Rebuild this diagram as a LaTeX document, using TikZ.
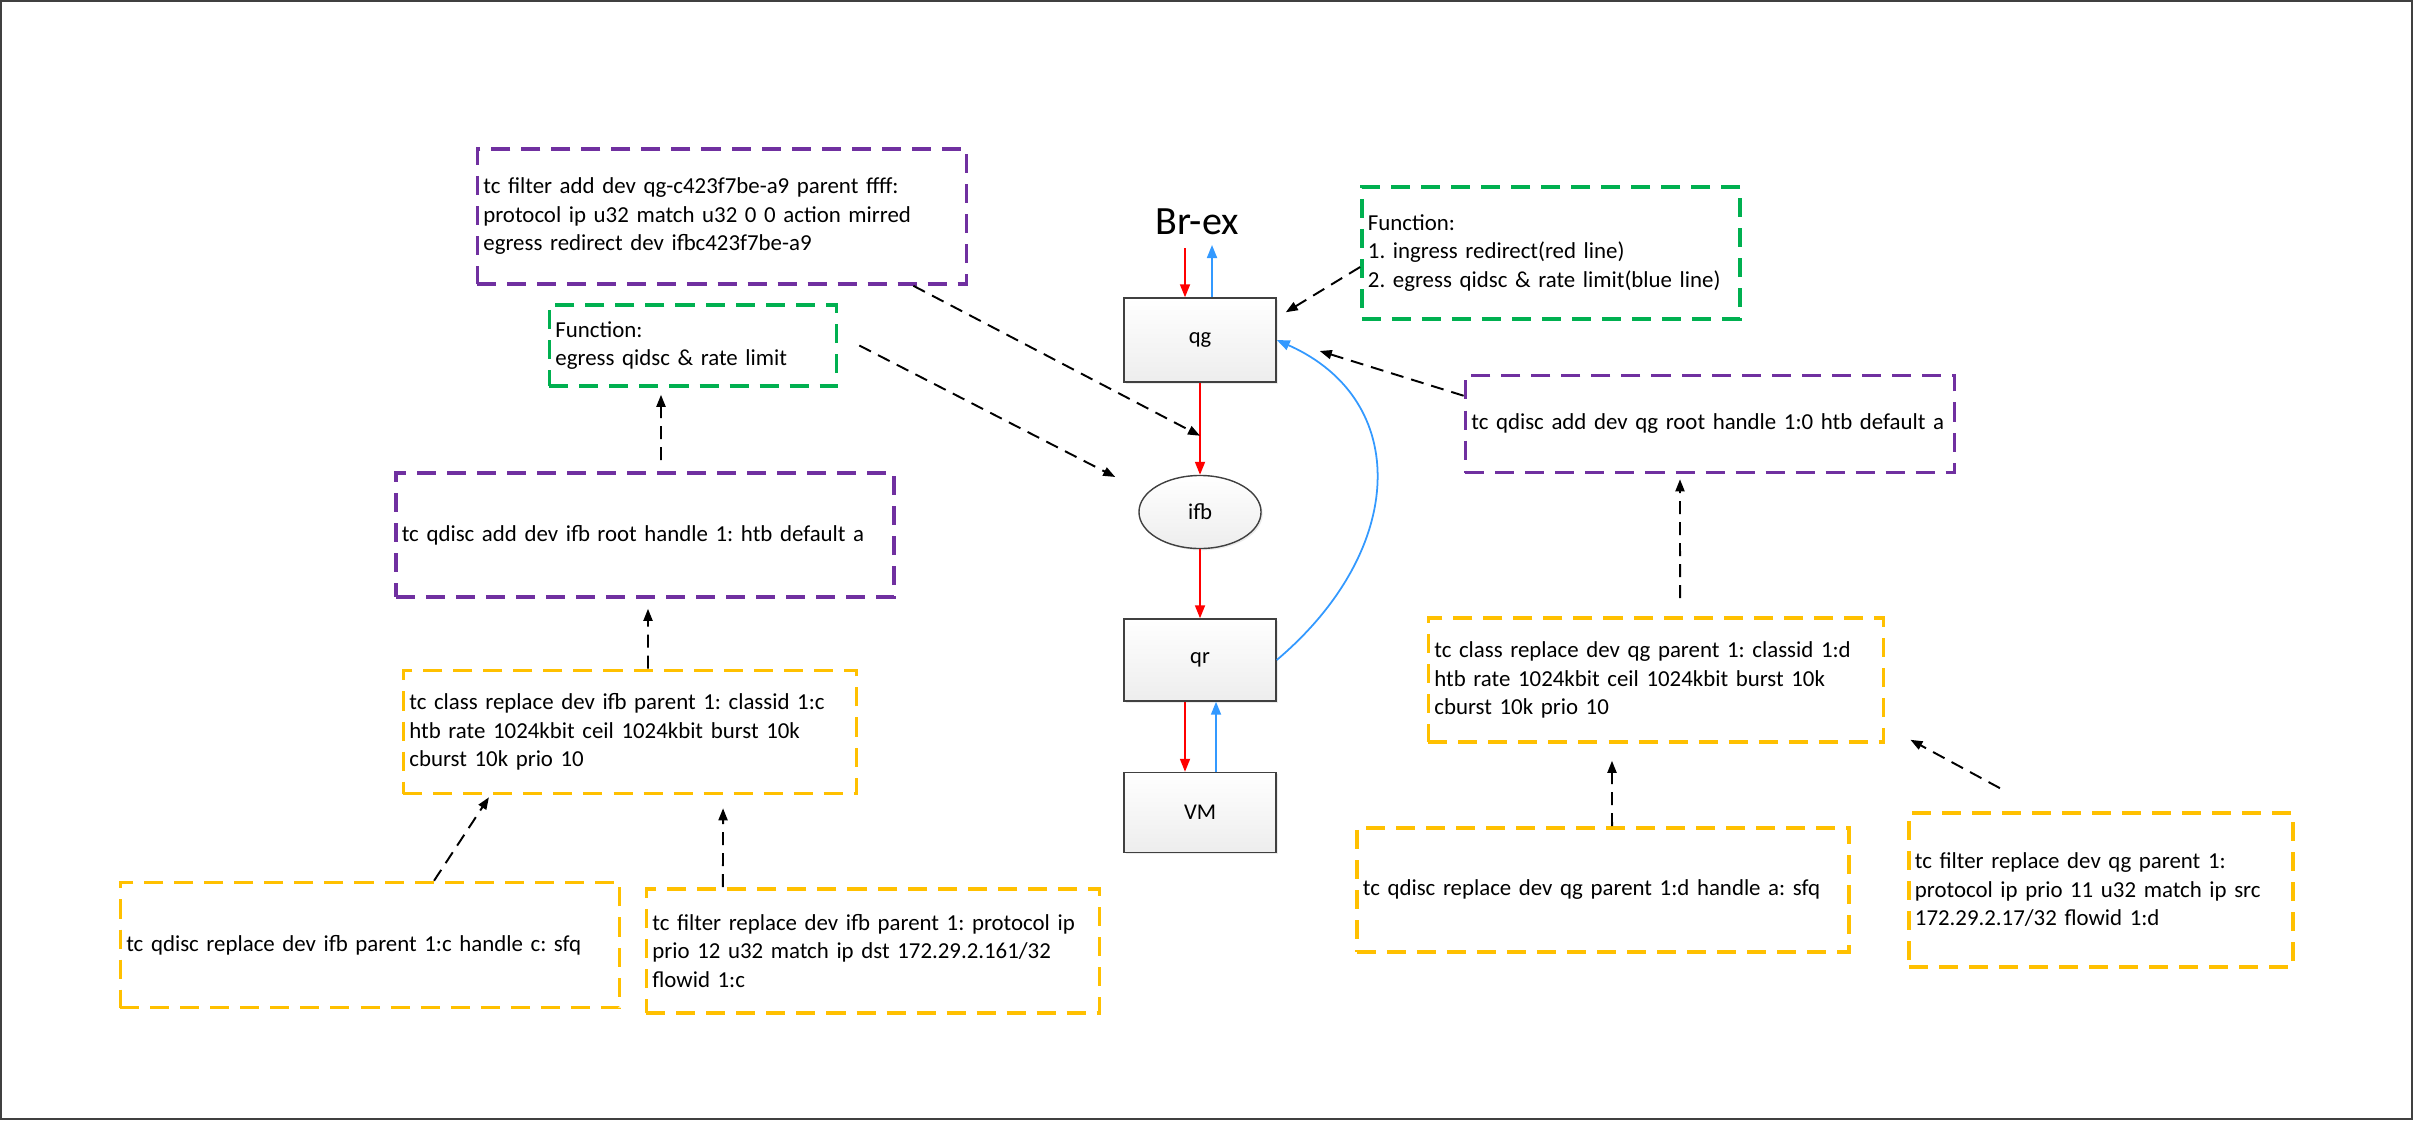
\documentclass[tikz,border=0pt]{standalone}
\usepackage{fontspec}
\setmainfont{Carlito}
\usepackage{xcolor}
\usetikzlibrary{arrows.meta, positioning, shapes.geometric, shadows}
\frenchspacing

\definecolor{tcpurple}{RGB}{112,48,160}
\definecolor{tcgreen}{RGB}{0,176,80}
\definecolor{tcyellow}{RGB}{255,192,0}
\definecolor{tcblue}{RGB}{51,153,255}
\definecolor{tcred}{RGB}{255,0,0}
\definecolor{framegray}{RGB}{64,64,64}

\begin{document}
\begin{tikzpicture}[
    x=0.01cm, y=0.01cm,
    device/.style={rectangle, draw=black!75, line width=0.4pt, top color=white, bottom color=black!7, minimum width=1.52cm, minimum height=0.82cm, font=\fontsize{6.4}{7.5}\selectfont, drop shadow={opacity=0.15, shadow xshift=0.5pt, shadow yshift=-0.5pt}},
    cmdbox/.style={rectangle, draw=#1, line width=0.035cm, dash pattern=on 0.19cm off 0.11cm, inner xsep=0.06cm, inner ysep=0pt, align=left, font=\fontsize{6.5}{8.1}\selectfont},
    flow/.style={-{Triangle[length=0.13cm, width=0.1cm]}, line width=0.5pt, draw=#1},
    note/.style={-{Triangle[length=0.12cm, width=0.09cm]}, line width=0.55pt, dash pattern=on 0.13cm off 0.08cm}
]

\useasboundingbox (0,0) rectangle (2413,1120);
\draw[framegray, line width=0.02cm] (1,1) rectangle (2412,1119);

% data path
\node[font=\fontsize{11.4}{13}\selectfont] (brex) at (1197,898) {Br-ex};
\node[device, minimum height=0.84cm] (qg) at (1200,780) {qg};
\node[device, ellipse, minimum width=1.22cm, minimum height=0.73cm, below=0.92cm of qg] (ifb) {ifb};
\node[device, below=0.69cm of ifb] (qr) {qr};
\node[device, minimum height=0.80cm, below=0.70cm of qr] (vm) {VM};

\coordinate (brin) at (1185,872);
\coordinate (brout) at (1212,875);

\draw[flow=tcred] (brin) -- (brin |- qg.north);
\draw[flow=tcblue] (brout |- qg.north) -- (brout);
\draw[flow=tcred] (qg) -- (ifb);
\draw[flow=tcred] (ifb) -- (qr);
\draw[flow=tcred] ([xshift=-0.15cm]qr.south) -- ([xshift=-0.15cm]vm.north);
\draw[flow=tcblue] ([xshift=0.16cm]vm.north) -- ([xshift=0.16cm]qr.south);
\draw[flow=tcblue] (qr.east) .. controls +(130,110) and +(135,-60) .. (qg.east);

% ifb side
\node[cmdbox=tcpurple, text width=4.77cm, minimum height=1.35cm] (tcmirror) at (722,903.5) {tc filter add dev qg-c423f7be-a9 parent ffff:\\protocol ip u32 match u32 0 0 action mirred\\egress redirect dev ifbc423f7be-a9};
\node[cmdbox=tcgreen, text width=2.75cm, minimum height=0.81cm] (fnifb) at (693,774.5) {Function:\\egress qidsc \& rate limit};
\node[cmdbox=tcpurple, text width=4.86cm, minimum height=1.24cm] (rootifb) at (645,585) {tc qdisc add dev ifb root handle 1: htb default a};
\node[cmdbox=tcyellow, text width=4.41cm, minimum height=1.23cm] (classifb) at (630,388) {tc class replace dev ifb parent 1: classid 1:c\\htb rate 1024kbit ceil 1024kbit burst 10k\\cburst 10k prio 10};
\node[cmdbox=tcyellow, text width=4.87cm, minimum height=1.25cm] (sfqifb) at (370,175) {tc qdisc replace dev ifb parent 1:c handle c: sfq};
\node[cmdbox=tcyellow, text width=4.41cm, minimum height=1.24cm] (filterifb) at (873,169) {tc filter replace dev ifb parent 1: protocol ip\\prio 12 u32 match ip dst 172.29.2.161/32\\flowid 1:c};

% qg side
\node[cmdbox=tcgreen, text width=3.66cm, minimum height=1.32cm] (fnqg) at (1551,867) {Function:\\1. ingress redirect(red line)\\2. egress qidsc \& rate limit(blue line)};
\node[cmdbox=tcpurple, text width=4.77cm, minimum height=0.97cm] (rootqg) at (1710,696) {tc qdisc add dev qg root handle 1:0 htb default a};
\node[cmdbox=tcyellow, text width=4.43cm, minimum height=1.24cm] (classqg) at (1656,440) {tc class replace dev qg parent 1: classid 1:d\\htb rate 1024kbit ceil 1024kbit burst 10k\\cburst 10k prio 10};
\node[cmdbox=tcyellow, text width=4.80cm, minimum height=1.24cm] (sfqqg) at (1603,230) {tc qdisc replace dev qg parent 1:d handle a: sfq};
\node[cmdbox=tcyellow, text width=3.72cm, minimum height=1.54cm] (filterqg) at (2101,230) {tc filter replace dev qg parent 1:\\protocol ip prio 11 u32 match ip src\\172.29.2.17/32 flowid 1:d};

% annotations
\draw[note] ([xshift=-0.55cm]tcmirror.south east) -- ([yshift=-0.53cm]qg.south);
\draw[note] ([xshift=0.21cm]fnifb.east) -- ([xshift=-0.23cm, yshift=0.35cm]ifb.west);
\draw[note] ([xshift=0.16cm, yshift=0.11cm]rootifb.north) -- ([xshift=-0.32cm, yshift=-0.07cm]fnifb.south);
\draw[note] ([xshift=0.18cm]classifb.north) -- ([xshift=0.03cm, yshift=-0.10cm]rootifb.south);
\draw[note] ([xshift=0.64cm]sfqifb.north) -- ([xshift=-1.41cm, yshift=-0.02cm]classifb.south);
\draw[note] ([xshift=-1.5cm]filterifb.north) -- ([xshift=0.93cm, yshift=-0.13cm]classifb.south);

\draw[note] ([yshift=-0.14cm]fnqg.west) -- ([xshift=0.09cm, yshift=-0.15cm]qg.north east);
\draw[note] ([yshift=-0.22cm]rootqg.north west) -- ([xshift=0.43cm, yshift=-0.11cm]qg.east);
\draw[note] ([xshift=0.24cm, yshift=0.18cm]classqg.north) -- ([xshift=-0.3cm, yshift=-0.05cm]rootqg.south);
\draw[note] ([xshift=0.09cm]sfqqg.north) -- ([xshift=-0.44cm, yshift=-0.17cm]classqg.south);
\draw[note] ([xshift=-1.01cm, yshift=0.23cm]filterqg.north) -- ([xshift=0.25cm, yshift=0.04cm]classqg.south east);

\end{tikzpicture}
\end{document}
